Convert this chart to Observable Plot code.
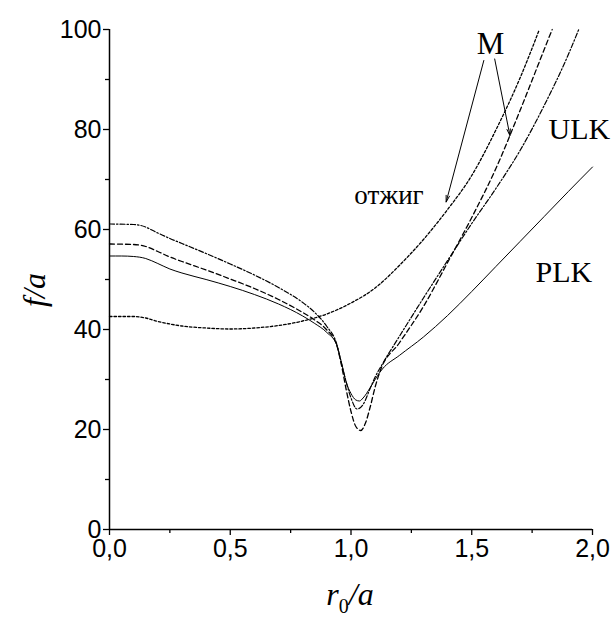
<!DOCTYPE html>
<html><head><meta charset="utf-8">
<script src="https://cdn.jsdelivr.net/npm/d3@7"></script>
<script src="https://cdn.jsdelivr.net/npm/@observablehq/plot@0.6"></script>
<style>body{margin:0;background:#fff}</style>
</head><body><div id="chart"></div>
<script>
// PLK (solid)
const plkX = [0, 0.05, 0.1, 0.15, 0.2, 0.25, 0.3, 0.4, 0.5, 0.6, 0.7, 0.8, 0.85, 0.9, 0.94, 0.96, 0.98, 1.0, 1.02, 1.035, 1.05, 1.08, 1.11, 1.13, 1.2, 1.3, 1.4, 1.5, 1.6, 1.7, 1.8, 1.9, 2.0];
const plkY = [54.7, 54.7, 54.6, 54.2, 53.2, 52.1, 51.3, 50.0, 48.6, 47.0, 45.1, 42.7, 41.2, 39.4, 37.0, 33.5, 29.5, 27.2, 25.9, 25.7, 26.3, 28.4, 30.8, 32.1, 34.8, 38.5, 42.8, 47.6, 52.6, 57.6, 62.6, 67.6, 72.5];
// M (dashed)
const mX = [0, 0.1, 0.15, 0.2, 0.25, 0.3, 0.4, 0.5, 0.6, 0.7, 0.8, 0.85, 0.9, 0.94, 0.96, 0.98, 1.0, 1.02, 1.04, 1.06, 1.08, 1.1, 1.12, 1.2, 1.3, 1.4, 1.5, 1.6, 1.7, 1.8, 1.833];
const mY = [57.1, 57.0, 56.6, 55.6, 54.5, 53.6, 51.9, 50.1, 48.2, 46.0, 43.4, 41.9, 39.9, 37.0, 33.0, 28.0, 23.6, 20.6, 19.8, 21.3, 24.6, 28.5, 31.6, 37.3, 44.6, 53.4, 62.4, 72.2, 83.8, 96.0, 100];
// ULK (dash-dot)
const ulkX = [0, 0.1, 0.13, 0.2, 0.25, 0.3, 0.4, 0.5, 0.6, 0.7, 0.8, 0.85, 0.9, 0.94, 0.96, 0.98, 1.0, 1.025, 1.05, 1.08, 1.1, 1.13, 1.2, 1.3, 1.4, 1.5, 1.6, 1.7, 1.8, 1.9, 1.943];
const ulkY = [61.1, 61.0, 60.8, 59.3, 58.2, 57.2, 55.2, 53.1, 50.9, 48.4, 45.4, 43.4, 40.6, 37.2, 33.3, 29.5, 26.3, 24.1, 25.0, 28.3, 30.5, 33.1, 38.6, 46.3, 53.8, 61.2, 68.2, 75.8, 84.8, 95.0, 100];
// отжиг (dotted)
const annX = [0, 0.1, 0.15, 0.2, 0.25, 0.3, 0.4, 0.5, 0.6, 0.7, 0.8, 0.9, 1.0, 1.1, 1.2, 1.3, 1.4, 1.5, 1.6, 1.7, 1.78];
const annY = [42.6, 42.6, 42.3, 41.6, 41.1, 40.7, 40.3, 40.1, 40.3, 40.8, 41.7, 43.1, 45.3, 48.3, 52.8, 58.0, 64.0, 70.8, 79.9, 90.3, 100];

const xTicks = [0, 0.5, 1.0, 1.5, 2.0];
const xMinorTicks = [0.25, 0.75, 1.25, 1.75];
const yTicks = [0, 20, 40, 60, 80, 100];
const yMinorTicks = [10, 30, 50, 70, 90];

const labelText = ["M", "ULK", "PLK", "отжиг"];
const labelX = [1.578, 1.818, 1.764, 1.301];
const labelY = [95.2, 78.2, 49.5, 65.1];
const labelAnchor = ["middle", "start", "start", "end"];
const labelSize = [31, 30, 30, 27];

const arrowX1 = [1.55, 1.595];
const arrowY1 = [93.8, 94.1];
const arrowX2 = [1.394, 1.658];
const arrowY2 = [65.5, 78.8];

const rows = (xs, ys) => xs.map((x, i) => ({x, y: ys[i]}));
const labels = labelText.map((t, i) => ({t, x: labelX[i], y: labelY[i], a: labelAnchor[i], s: labelSize[i]}));
const arrows = arrowX1.map((x1, i) => ({x1, y1: arrowY1[i], x2: arrowX2[i], y2: arrowY2[i]}));
const fmt = d => d.toFixed(1).replace(".", ",");
const serif = "'Liberation Serif', 'Times New Roman', serif";
const textMark = anchor => Plot.text(labels.filter(d => d.a === anchor), {
  x: "x", y: "y", text: "t", textAnchor: anchor, lineAnchor: "bottom",
  fontSize: "s", fontFamily: serif, fill: "black"
});

const chart = Plot.plot({
  width: 612, height: 622,
  marginLeft: 109, marginRight: 20, marginTop: 29, marginBottom: 93,
  style: {fontFamily: "'Liberation Sans', Arial, sans-serif", fontSize: "25px", color: "black", background: "white", overflow: "visible"},
  x: {domain: [0, 2]},
  y: {domain: [0, 100]},
  marks: [
    Plot.axisX({ticks: xTicks, tickSize: 6, tickPadding: 4, tickFormat: fmt, label: null, fontSize: 25, strokeWidth: 1.3}),
    Plot.axisX({ticks: xMinorTicks, tickSize: 4, tickFormat: () => "", label: null, strokeWidth: 1.3}),
    Plot.axisY({ticks: yTicks, tickSize: 6, tickPadding: 2, label: null, fontSize: 25, strokeWidth: 1.3}),
    Plot.axisY({ticks: yMinorTicks, tickSize: 4, tickFormat: () => "", label: null, strokeWidth: 1.3}),
    Plot.ruleX([0], {y1: 0, y2: 100, strokeWidth: 1.5}),
    Plot.ruleY([0], {x1: 0, x2: 2, strokeWidth: 1.5}),
    Plot.line(rows(annX, annY), {x: "x", y: "y", curve: "monotone-x", strokeWidth: 1.3, strokeDasharray: "2.5,2"}),
    Plot.line(rows(ulkX, ulkY), {x: "x", y: "y", curve: "monotone-x", strokeWidth: 1.2, strokeDasharray: "5,2,1.5,2"}),
    Plot.line(rows(mX, mY), {x: "x", y: "y", curve: "monotone-x", strokeWidth: 1.3, strokeDasharray: "5,3"}),
    Plot.line(rows(plkX, plkY), {x: "x", y: "y", curve: "monotone-x", strokeWidth: 1}),
    Plot.arrow(arrows, {x1: "x1", y1: "y1", x2: "x2", y2: "y2", strokeWidth: 1, headLength: 10, headAngle: 30}),
    textMark("middle"),
    textMark("start"),
    textMark("end")
  ]
});
document.getElementById("chart").append(chart);

const svg = d3.select(chart);
svg.append("text")
  .attr("transform", "translate(45,290) rotate(-90)")
  .attr("text-anchor", "middle")
  .style("font-family", serif).style("font-style", "italic").style("font-size", "32px")
  .text("f/a");
const xl = svg.append("text")
  .attr("x", 350).attr("y", 605)
  .attr("text-anchor", "middle")
  .style("font-family", serif).style("font-style", "italic").style("font-size", "32px");
xl.append("tspan").text("r");
xl.append("tspan").attr("dy", 8).style("font-size", "20px").style("font-style", "normal").text("0");
xl.append("tspan").attr("dy", -8).text("/a");
</script></body></html>
